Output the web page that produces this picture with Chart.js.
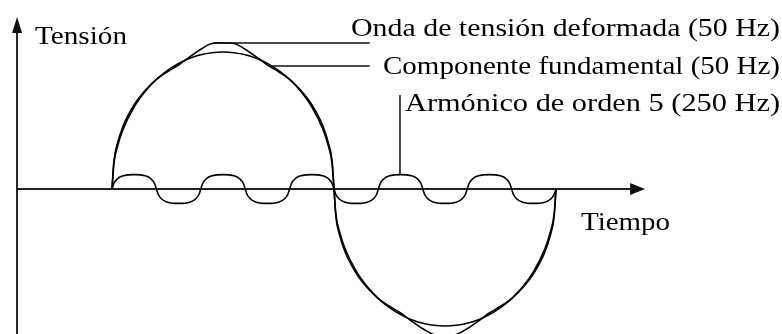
<!DOCTYPE html>
<html>
<head>
<meta charset="utf-8">
<script src="https://cdn.jsdelivr.net/npm/chart.js@4.4.1/dist/chart.umd.min.js"></script>
<style>
  html, body { margin: 0; padding: 0; background: #fff; }
  #waveChart { display: block; }
</style>
</head>
<body>
<canvas id="waveChart" width="782" height="334"></canvas>
<script>
// time axis in electrical degrees of the 50 Hz wave (0..360 = one period)
const fundX = [0, 1.5, 4.5, 9, 18, 27, 36, 45, 54, 63, 72, 81, 90, 99, 108, 117, 126, 135, 144, 153, 162, 171, 175.5, 178.5,
               180, 181.5, 184.5, 189, 198, 207, 216, 225, 234, 243, 252, 261, 270, 279, 288, 297, 306, 315, 324, 333, 342, 351, 355.5, 358.5, 360];

// Componente fundamental (50 Hz)
const fundY = [0, .182, .312, .436, .6, .714, .8, .866, .917, .954, .98, .995, 1, .995, .98, .954, .917, .866, .8, .714, .6, .436, .312, .182,
               0, -.182, -.312, -.436, -.6, -.714, -.8, -.866, -.917, -.954, -.98, -.995, -1, -.995, -.98, -.954, -.917, -.866, -.8, -.714, -.6, -.436, -.312, -.182, 0];

// Onda de tension deformada (same time points as the fundamental)
const deformY = [0, .2, .335, .46, .615, .72, .8, .856, .905, .965, 1.02, 1.062, 1.068, 1.062, 1.02, .965, .905, .856, .8, .72, .615, .46, .335, .2,
                 0, -.2, -.335, -.46, -.615, -.72, -.8, -.856, -.905, -.965, -1.02, -1.062, -1.068, -1.062, -1.02, -.965, -.905, -.856, -.8, -.72, -.615, -.46, -.335, -.2, 0];

// Armonico de orden 5 (250 Hz)
const harmX = [0, 1.5, 4.5, 9, 18, 27, 31.5, 34.5,
               36, 37.5, 40.5, 45, 54, 63, 67.5, 70.5,
               72, 73.5, 76.5, 81, 90, 99, 103.5, 106.5,
               108, 109.5, 112.5, 117, 126, 135, 139.5, 142.5,
               144, 145.5, 148.5, 153, 162, 171, 175.5, 178.5,
               180, 181.5, 184.5, 189, 198, 207, 211.5, 214.5,
               216, 217.5, 220.5, 225, 234, 243, 247.5, 250.5,
               252, 253.5, 256.5, 261, 270, 279, 283.5, 286.5,
               288, 289.5, 292.5, 297, 306, 315, 319.5, 322.5,
               324, 325.5, 328.5, 333, 342, 351, 355.5, 358.5,
               360];
const harmY = [0, .04, .075, .096, .105, .096, .075, .04,
               0, -.04, -.075, -.096, -.105, -.096, -.075, -.04,
               0, .04, .075, .096, .105, .096, .075, .04,
               0, -.04, -.075, -.096, -.105, -.096, -.075, -.04,
               0, .04, .075, .096, .105, .096, .075, .04,
               0, -.04, -.075, -.096, -.105, -.096, -.075, -.04,
               0, .04, .075, .096, .105, .096, .075, .04,
               0, -.04, -.075, -.096, -.105, -.096, -.075, -.04,
               0, .04, .075, .096, .105, .096, .075, .04,
               0, -.04, -.075, -.096, -.105, -.096, -.075, -.04,
               0];

const yTitle = 'Tensión';
const xTitle = 'Tiempo';
const deformLabel = 'Onda de tensión deformada (50 Hz)';
const fundLabel = 'Componente fundamental (50 Hz)';
const harmLabel = 'Armónico de orden 5 (250 Hz)';

const toPoints = (xs, ys) => xs.map((x, i) => ({ x: x, y: ys[i] }));

// draw text stretched to a given width (the original font is wide-set)
function fitText(ctx, str, x, y, w) {
    const m = ctx.measureText(str).width;
    ctx.save();
    ctx.translate(x, y);
    ctx.scale(w / m, 1);
    ctx.fillText(str, 0, 0);
    ctx.restore();
}

const sketchPlugin = {
    id: 'sketch',
    beforeDatasetsDraw(chart) {
        const ctx = chart.ctx;
        const xs = chart.scales.x, ys = chart.scales.y;
        const ox = xs.getPixelForValue(-77);
        const oy = ys.getPixelForValue(0);
        const xTip = xs.getPixelForValue(432.2);
        const yTip = ys.getPixelForValue(1.255);

        ctx.save();
        ctx.strokeStyle = '#222';
        ctx.fillStyle = '#111';
        ctx.lineWidth = 2;
        ctx.beginPath();
        ctx.moveTo(ox, chart.height);
        ctx.lineTo(ox, yTip + 8);
        ctx.moveTo(ox, oy);
        ctx.lineTo(xTip - 8, oy);
        ctx.stroke();

        // arrow heads
        ctx.beginPath();
        ctx.moveTo(ox, yTip);
        ctx.lineTo(ox - 5, yTip + 16);
        ctx.lineTo(ox + 5, yTip + 16);
        ctx.closePath();
        ctx.fill();
        ctx.beginPath();
        ctx.moveTo(xTip, oy);
        ctx.lineTo(xTip - 15, oy - 6);
        ctx.lineTo(xTip - 15, oy + 6);
        ctx.closePath();
        ctx.fill();
        ctx.restore();
    },
    afterDraw(chart) {
        const ctx = chart.ctx;
        const xs = chart.scales.x, ys = chart.scales.y;

        ctx.save();
        ctx.strokeStyle = '#111';
        ctx.lineWidth = 1.5;
        ctx.beginPath();
        // leader to the deformed wave crest
        ctx.moveTo(xs.getPixelForValue(82), ys.getPixelForValue(1.066));
        ctx.lineTo(xs.getPixelForValue(209), ys.getPixelForValue(1.066));
        // leader to the fundamental
        ctx.moveTo(xs.getPixelForValue(130), ys.getPixelForValue(.897));
        ctx.lineTo(xs.getPixelForValue(209), ys.getPixelForValue(.897));
        // leader to the 5th harmonic
        ctx.moveTo(xs.getPixelForValue(233.5), ys.getPixelForValue(.105));
        ctx.lineTo(xs.getPixelForValue(233.5), ys.getPixelForValue(.686));
        ctx.stroke();

        ctx.fillStyle = '#000';
        ctx.font = '26px "Liberation Serif", "DejaVu Serif", serif';
        ctx.textBaseline = 'alphabetic';
        fitText(ctx, yTitle, 35, 44, 92);
        fitText(ctx, xTitle, 581, 230, 89);
        fitText(ctx, deformLabel, 351, 36, 429);
        fitText(ctx, fundLabel, 383, 74, 397);
        fitText(ctx, harmLabel, 405, 111, 375);
        ctx.restore();
    }
};

const lineStyle = {
    showLine: true,
    borderColor: '#000',
    borderWidth: 1.6,
    pointRadius: 0,
    fill: false,
    cubicInterpolationMode: 'monotone'
};

const ctx = document.getElementById('waveChart').getContext('2d');
const waveChart = new Chart(ctx, {
    type: 'scatter',
    data: {
        datasets: [
            Object.assign({ label: harmLabel, data: toPoints(harmX, harmY) }, lineStyle),
            Object.assign({ label: fundLabel, data: toPoints(fundX, fundY) }, lineStyle),
            Object.assign({ label: deformLabel, data: toPoints(fundX, deformY) }, lineStyle)
        ]
    },
    options: {
        responsive: false,
        animation: false,
        layout: { padding: 0 },
        scales: {
            x: { type: 'linear', min: -90.81, max: 543.24, display: false },
            y: { type: 'linear', min: -1.0584, max: 1.3796, display: false }
        },
        plugins: {
            legend: { display: false },
            tooltip: { enabled: false }
        }
    },
    plugins: [sketchPlugin]
});
</script>
</body>
</html>
